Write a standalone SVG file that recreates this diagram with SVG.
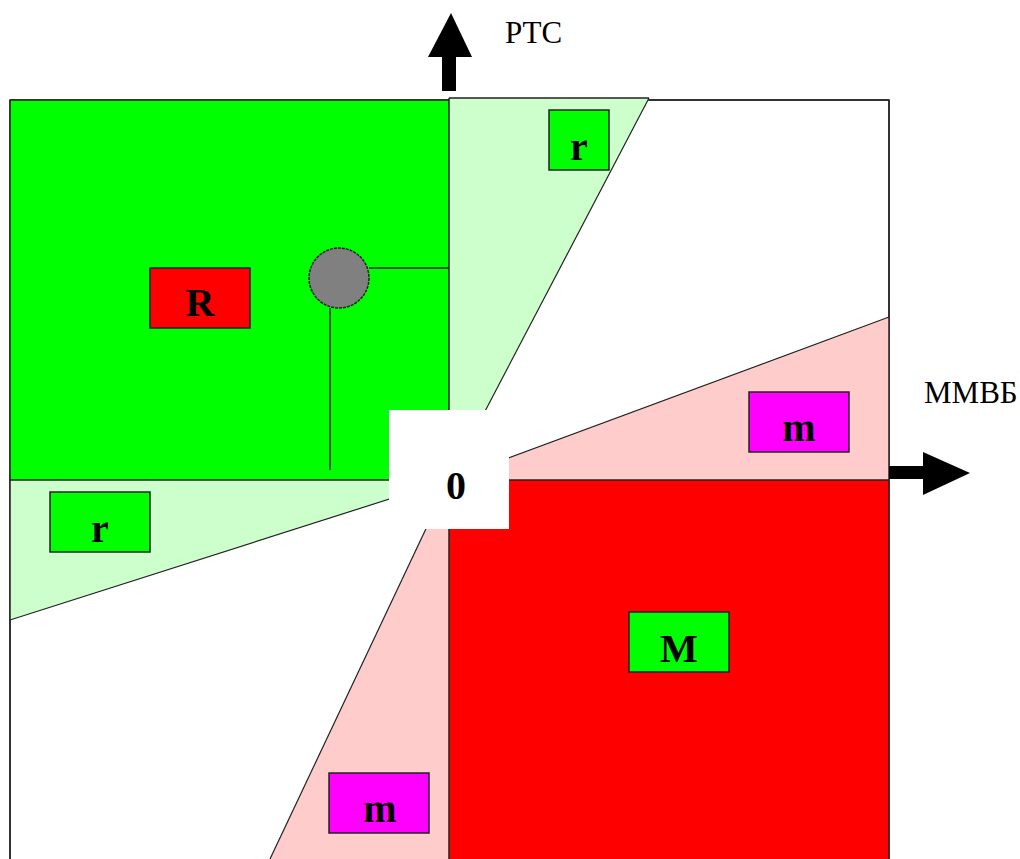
<svg xmlns="http://www.w3.org/2000/svg" width="1020" height="859" viewBox="0 0 1020 859">
<style>
.lbl{font-family:"Liberation Serif","Times New Roman",serif;font-weight:bold;font-size:40px;text-anchor:middle;fill:#000}
.ax{font-family:"Liberation Serif","Times New Roman",serif;font-size:31px;fill:#000}
.box{stroke:#222;stroke-width:1.5}
.edge{stroke:#222;stroke-width:1.5;fill:none}
.diag{stroke:#222;stroke-width:1.2;fill:none}
</style>
<rect x="0" y="0" width="1020" height="859" fill="#fff"/>
<g id="frame">
<rect x="10" y="100" width="879" height="800" fill="#fff" stroke="#333" stroke-width="1.5"/>
</g>
<g id="wedges">
<polygon id="wedge-top" points="449,98 649,98 449,480" fill="#CCFFCC"/>
<polygon id="wedge-left" points="10,480 10,620 449,480" fill="#CCFFCC"/>
<polygon id="wedge-right" points="889,317 889,480 449,480" fill="#FFCCCC"/>
<polygon id="wedge-bottom" points="449,480 449,859 270,859" fill="#FFCCCC"/>
</g>
<g id="quadrants">
<rect id="R-square" x="10" y="100" width="439" height="380" fill="#00FF00"/>
<rect id="M-square" x="449" y="480" width="440" height="400" fill="#FF0000"/>
</g>
<g id="connectors">
<line class="diag" x1="649" y1="98" x2="449" y2="480"/>
<line class="diag" x1="449" y1="480" x2="270" y2="859"/>
<line class="diag" x1="10" y1="620" x2="449" y2="480"/>
<line class="diag" x1="889" y1="317" x2="449" y2="480"/>
<line class="edge" x1="449" y1="98" x2="649" y2="98"/>
<line class="edge" x1="10" y1="100" x2="449" y2="100"/>
<line class="edge" x1="449" y1="98" x2="449" y2="859"/>
<line class="edge" x1="10" y1="480" x2="889" y2="480"/>
<line class="edge" x1="889" y1="100" x2="889" y2="859"/>
<line class="edge" x1="10" y1="100" x2="10" y2="859"/>
<line class="edge" x1="649" y1="100" x2="889" y2="100"/>
<line class="edge" x1="369" y1="268" x2="449" y2="268"/>
<line class="edge" x1="330" y1="308" x2="330" y2="470"/>
</g>
<g id="zero">
<rect x="389" y="410" width="120" height="119" fill="#fff"/>
<text class="lbl" x="456" y="499">0</text>
</g>
<g id="point">
<circle cx="339" cy="278" r="30" fill="#808080" stroke="#222" stroke-width="1.5" stroke-dasharray="3 1"/>
</g>
<g id="node-r-top">
<rect class="box" x="549" y="110" width="60" height="60" fill="#00FF00"/>
<text class="lbl" x="579" y="160">r</text>
</g>
<g id="node-R">
<rect class="box" x="150" y="268" width="100" height="60" fill="#FF0000"/>
<text class="lbl" x="200" y="316">R</text>
</g>
<g id="node-m-right">
<rect class="box" x="749" y="392" width="100" height="60" fill="#FF00FF"/>
<text class="lbl" x="799" y="441">m</text>
</g>
<g id="node-r-left">
<rect class="box" x="50" y="492" width="100" height="60" fill="#00FF00"/>
<text class="lbl" x="100" y="542">r</text>
</g>
<g id="node-M">
<rect class="box" x="629" y="612" width="100" height="60" fill="#00FF00"/>
<text class="lbl" x="679" y="662">M</text>
</g>
<g id="node-m-bottom">
<rect class="box" x="329" y="773" width="100" height="60" fill="#FF00FF"/>
<text class="lbl" x="380" y="822">m</text>
</g>
<g id="axis-y">
<rect x="442" y="55" width="14" height="36" fill="#000"/>
<polygon points="428,57 472,57 451,13" fill="#000"/>
<text class="ax" x="505" y="43">РТС</text>
</g>
<g id="axis-x">
<rect x="889" y="466" width="36" height="13" fill="#000"/>
<polygon points="923,452 923,495 970,473" fill="#000"/>
<text class="ax" x="924" y="403">ММВБ</text>
</g>
</svg>
